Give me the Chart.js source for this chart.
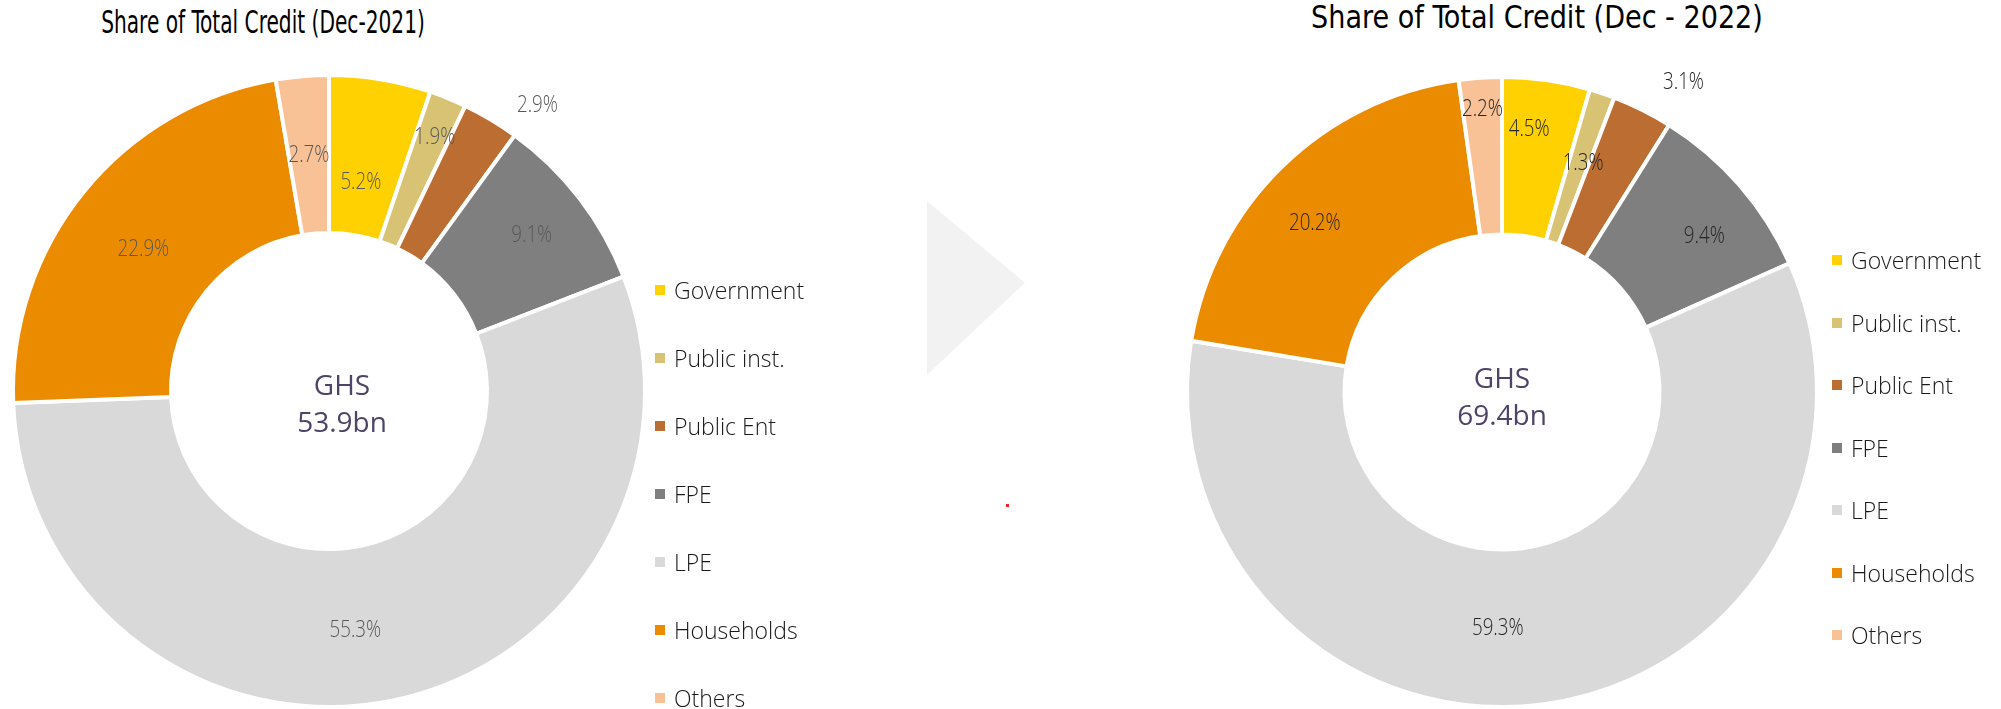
<!DOCTYPE html>
<html>
<head>
<meta charset="utf-8">
<title>Share of Total Credit</title>
<script src="https://cdn.jsdelivr.net/npm/chart.js@4.4.1/dist/chart.umd.min.js"></script>
<style>
  html, body { margin: 0; padding: 0; background: #fff; }
  body { width: 2001px; height: 709px; position: relative; overflow: hidden; font-family: "Open Sans", "Noto Sans", sans-serif; }
  .title { position: absolute; white-space: nowrap; color: #000; line-height: 1.2;
           font-family: "Liberation Sans Narrow", "DejaVu Sans Condensed", "Open Sans", sans-serif; }
  .donut { position: absolute; }
  .legend { position: absolute; margin: 0; padding: 0; list-style: none; }
  .legend li { display: flex; align-items: center; color: #1a1a1a; font-size: 23px; font-weight: 300; white-space: nowrap; }
  .legend .box { width: 10px; height: 10px; margin-right: 9px; flex: none; }
  .arrow { position: absolute; left: 927px; top: 201px; width: 98px; height: 174px; background: #f2f2f2;
           clip-path: polygon(0 0, 100% 47%, 0 100%); }
  .dot { position: absolute; left: 1006px; top: 504px; width: 3px; height: 3px; background: #e8202a; }
</style>
</head>
<body>
<div class="title" id="title-2021" style="left:263px; top:3px; font-size:32px; transform:translateX(-50%) scaleX(0.70);"></div>
<div class="title" id="title-2022" style="left:1537px; top:-2px; font-size:32px; transform:translateX(-50%) scaleX(0.94);"></div>

<!-- canvases are 40px larger on every side than the ring, so outside labels fit -->
<canvas id="chart-2021" class="donut" width="716" height="716" style="left:-29px; top:33px;"></canvas>
<canvas id="chart-2022" class="donut" width="714" height="714" style="left:1145px; top:35px;"></canvas>

<ul class="legend" id="legend-2021" style="left:655px; top:256px;"></ul>
<ul class="legend" id="legend-2022" style="left:1832px; top:229px;"></ul>

<div class="arrow"></div>
<div class="dot"></div>

<script>
// ------------------------------------------------------------
// Data
// ------------------------------------------------------------
const sectors = ["Government", "Public inst.", "Public Ent", "FPE", "LPE", "Households", "Others"];
const share2021 = [5.2, 1.9, 2.9, 9.1, 55.3, 22.9, 2.7];
const share2022 = [4.5, 1.3, 3.1, 9.4, 59.3, 20.2, 2.2];
const totalCredit = ["53.9bn", "69.4bn"];
const currency = "GHS";
const titles = ["Share of Total Credit (Dec-2021)", "Share of Total Credit (Dec - 2022)"];

const sectorColors = ["#FFD100", "#D8C273", "#BC6E32", "#7F7F7F", "#D9D9D9", "#EB8C00", "#F8C196"];

// label placement per slice: [radius as fraction of outer radius, angle nudge in degrees]
const labelPlace2021 = [[0.67, -0.7], [0.87, 0.5], [1.12, 5.3], [0.81, 0], [0.76, 5.4], [0.74, -1.6], [0.75, 0]];
const labelPlace2022 = [[0.84, -2.2], [0.77, 1], [1.14, 3.9], [0.81, 3.5], [0.75, 8.4], [0.80, -3.7], [0.90, 0]];

// ------------------------------------------------------------
// Plugins
// ------------------------------------------------------------
// percentage labels on / next to each slice (slightly condensed like the source deck)
const sliceLabels = {
  id: "sliceLabels",
  afterDatasetsDraw(chart, args, opts) {
    const { ctx } = chart;
    const meta = chart.getDatasetMeta(0);
    const values = chart.data.datasets[0].data;
    meta.data.forEach((arc, i) => {
      const p = arc.getProps(["x", "y", "startAngle", "endAngle", "outerRadius"], true);
      const [rf, nudge] = opts.place[i];
      const a = (p.startAngle + p.endAngle) / 2 + nudge * Math.PI / 180;
      const r = p.outerRadius * rf;
      ctx.save();
      ctx.translate(p.x + r * Math.cos(a), p.y + r * Math.sin(a));
      ctx.scale(opts.squeeze, 1);
      ctx.font = opts.font;
      ctx.fillStyle = opts.color;
      ctx.textAlign = "center";
      ctx.textBaseline = "middle";
      ctx.fillText(values[i].toFixed(1) + "%", 0, 0);
      ctx.restore();
    });
  }
};

// total in the hole
const centerText = {
  id: "centerText",
  afterDraw(chart, args, opts) {
    const { ctx, chartArea } = chart;
    const cx = (chartArea.left + chartArea.right) / 2 + opts.dx;
    const cy = (chartArea.top + chartArea.bottom) / 2 + opts.dy;
    ctx.save();
    ctx.font = opts.font;
    ctx.fillStyle = opts.color;
    ctx.textAlign = "center";
    ctx.textBaseline = "middle";
    opts.lines.forEach((line, i) => ctx.fillText(line, cx, cy + i * opts.lineHeight));
    ctx.restore();
  }
};

// html legend built from the chart's own legend items
const htmlLegend = {
  id: "htmlLegend",
  afterUpdate(chart, args, opts) {
    const list = document.getElementById(opts.containerID);
    list.innerHTML = "";
    const items = chart.options.plugins.legend.labels.generateLabels(chart);
    items.forEach(item => {
      const li = document.createElement("li");
      li.style.height = opts.rowHeight + "px";
      const box = document.createElement("span");
      box.className = "box";
      box.style.background = item.fillStyle;
      const txt = document.createElement("span");
      txt.textContent = item.text;
      li.appendChild(box);
      li.appendChild(txt);
      list.appendChild(li);
    });
  }
};

// ------------------------------------------------------------
// Charts
// ------------------------------------------------------------
function renderDonut(canvasId, values, place, labelColor, center, legend) {
  return new Chart(document.getElementById(canvasId), {
    type: "doughnut",
    data: {
      labels: sectors,
      datasets: [{
        data: values,
        backgroundColor: sectorColors,
        borderColor: "#ffffff",
        borderWidth: 4
      }]
    },
    options: {
      responsive: false,
      animation: false,
      events: [],
      cutout: "50%",
      layout: { padding: 40 },
      plugins: {
        legend: { display: false },
        title: { display: false },
        tooltip: { enabled: false },
        sliceLabels: { font: "300 24px 'Open Sans', sans-serif", color: labelColor, place, squeeze: 0.78 },
        centerText: { ...center, font: "28px 'Open Sans', sans-serif", color: "#4F4468", lineHeight: 37 },
        htmlLegend: legend
      }
    },
    plugins: [sliceLabels, centerText, htmlLegend]
  });
}

document.getElementById("title-2021").textContent = titles[0];
document.getElementById("title-2022").textContent = titles[1];

renderDonut("chart-2021", share2021, labelPlace2021, "#595959",
  { lines: [currency, totalCredit[0]], dx: 13, dy: -4 },
  { containerID: "legend-2021", rowHeight: 68 });

renderDonut("chart-2022", share2022, labelPlace2022, "#262626",
  { lines: [currency, totalCredit[1]], dx: 0, dy: -12 },
  { containerID: "legend-2022", rowHeight: 62.5 });
</script>
</body>
</html>
